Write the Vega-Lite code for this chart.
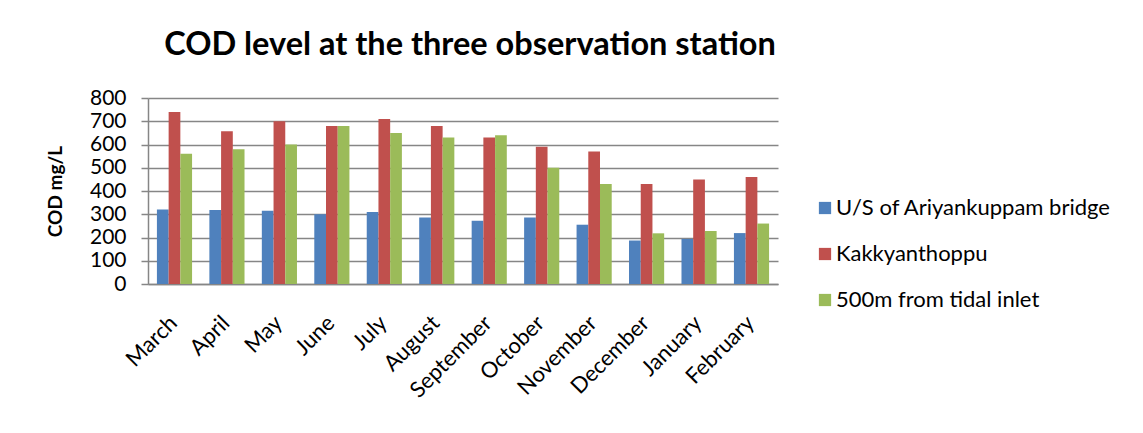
{
  "$schema": "https://vega.github.io/schema/vega-lite/v6.json",
  "width": 630,
  "height": 186,
  "autosize": "none",
  "padding": {"left": 148, "top": 98, "right": 365, "bottom": 149},
  "background": "white",
  "title": {
    "text": "COD level at the three observation station",
    "font": "Lato",
    "fontSize": 32.5,
    "fontWeight": "bold",
    "color": "#000000",
    "offset": 26,
    "anchor": "middle",
    "dx": 7
  },
  "data": {
    "values": [
      {"month": "March", "station": "U/S of Ariyankuppam bridge", "cod": 320},
      {"month": "March", "station": "Kakkyanthoppu", "cod": 740},
      {"month": "March", "station": "500m from tidal inlet", "cod": 560},
      {"month": "April", "station": "U/S of Ariyankuppam bridge", "cod": 318},
      {"month": "April", "station": "Kakkyanthoppu", "cod": 657},
      {"month": "April", "station": "500m from tidal inlet", "cod": 580},
      {"month": "May", "station": "U/S of Ariyankuppam bridge", "cod": 315},
      {"month": "May", "station": "Kakkyanthoppu", "cod": 700},
      {"month": "May", "station": "500m from tidal inlet", "cod": 600},
      {"month": "June", "station": "U/S of Ariyankuppam bridge", "cod": 300},
      {"month": "June", "station": "Kakkyanthoppu", "cod": 680},
      {"month": "June", "station": "500m from tidal inlet", "cod": 680},
      {"month": "July", "station": "U/S of Ariyankuppam bridge", "cod": 310},
      {"month": "July", "station": "Kakkyanthoppu", "cod": 710},
      {"month": "July", "station": "500m from tidal inlet", "cod": 650},
      {"month": "August", "station": "U/S of Ariyankuppam bridge", "cod": 286},
      {"month": "August", "station": "Kakkyanthoppu", "cod": 680},
      {"month": "August", "station": "500m from tidal inlet", "cod": 630},
      {"month": "September", "station": "U/S of Ariyankuppam bridge", "cod": 272},
      {"month": "September", "station": "Kakkyanthoppu", "cod": 630},
      {"month": "September", "station": "500m from tidal inlet", "cod": 640},
      {"month": "October", "station": "U/S of Ariyankuppam bridge", "cod": 286},
      {"month": "October", "station": "Kakkyanthoppu", "cod": 590},
      {"month": "October", "station": "500m from tidal inlet", "cod": 500},
      {"month": "November", "station": "U/S of Ariyankuppam bridge", "cod": 255},
      {"month": "November", "station": "Kakkyanthoppu", "cod": 570},
      {"month": "November", "station": "500m from tidal inlet", "cod": 430},
      {"month": "December", "station": "U/S of Ariyankuppam bridge", "cod": 187},
      {"month": "December", "station": "Kakkyanthoppu", "cod": 430},
      {"month": "December", "station": "500m from tidal inlet", "cod": 218},
      {"month": "January", "station": "U/S of Ariyankuppam bridge", "cod": 194},
      {"month": "January", "station": "Kakkyanthoppu", "cod": 450},
      {"month": "January", "station": "500m from tidal inlet", "cod": 228},
      {"month": "February", "station": "U/S of Ariyankuppam bridge", "cod": 219},
      {"month": "February", "station": "Kakkyanthoppu", "cod": 460},
      {"month": "February", "station": "500m from tidal inlet", "cod": 260}
    ]
  },
  "mark": {"type": "bar"},
  "encoding": {
    "x": {
      "field": "month",
      "type": "nominal",
      "sort": null,
      "scale": {"paddingInner": 0.33, "paddingOuter": 0.17},
      "axis": {
        "title": null,
        "labelAngle": -45,
        "labelFont": "Lato",
        "labelFontSize": 22,
        "labelColor": "#000000",
        "labelPadding": 28,
        "labelOffset": -8,
        "ticks": false,
        "domainColor": "#868686",
        "domainWidth": 1.5,
        "grid": false
      }
    },
    "xOffset": {
      "field": "station",
      "type": "nominal",
      "sort": ["U/S of Ariyankuppam bridge", "Kakkyanthoppu", "500m from tidal inlet"]
    },
    "y": {
      "field": "cod",
      "type": "quantitative",
      "scale": {"domain": [0, 800]},
      "axis": {
        "title": "COD mg/L",
        "titleFont": "Lato",
        "titleFontSize": 19,
        "titleFontWeight": "bold",
        "titleColor": "#000000",
        "titlePadding": 24,
        "values": [0, 100, 200, 300, 400, 500, 600, 700, 800],
        "labelFont": "Lato",
        "labelFontSize": 21,
        "labelColor": "#000000",
        "labelPadding": 15,
        "tickSize": 7,
        "tickColor": "#868686",
        "tickWidth": 1.5,
        "domainColor": "#868686",
        "domainWidth": 1.5,
        "grid": true,
        "gridColor": "#868686",
        "gridWidth": 1.5
      }
    },
    "color": {
      "field": "station",
      "type": "nominal",
      "scale": {
        "domain": ["U/S of Ariyankuppam bridge", "Kakkyanthoppu", "500m from tidal inlet"],
        "range": ["#4F81BD", "#C0504D", "#9BBB59"]
      },
      "legend": {
        "title": null,
        "orient": "none",
        "legendX": 666,
        "legendY": 99,
        "symbolType": "square",
        "symbolSize": 150,
        "symbolStrokeWidth": 0,
        "labelFont": "Lato",
        "labelFontSize": 22,
        "labelColor": "#000000",
        "labelOffset": 0,
        "rowPadding": 24,
        "labelLimit": 400
      }
    }
  },
  "config": {
    "view": {"stroke": null}
  }
}
